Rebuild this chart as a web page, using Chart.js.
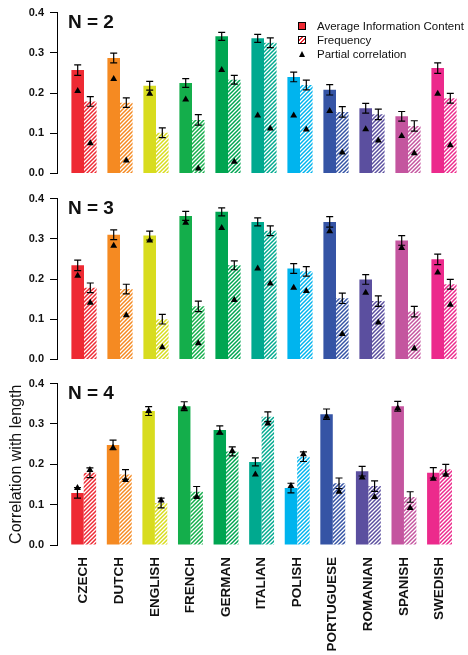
<!DOCTYPE html>
<html>
<head>
<meta charset="utf-8">
<script src="https://cdn.jsdelivr.net/npm/chart.js@4.4.1/dist/chart.umd.min.js"></script>
<style>
  html, body { margin: 0; padding: 0; background: #fff; }
  #wrap { position: relative; width: 468px; height: 655px; font-family: "Liberation Sans", Arial, sans-serif; }
  .panel { position: absolute; left: 0; width: 468px; }
  #legend { position: absolute; left: 298px; top: 18.5px; font-size: 11.5px; color: #111; }
  #legend .row { position: relative; height: 14px; line-height: 14px; padding-left: 19px; white-space: nowrap; }
  #legend .box { position: absolute; left: 0; top: 3.5px; width: 6px; height: 6px; border: 1px solid #000; }
  #legend .solid { background: #EE2A33; }
  #legend .hatch { background: repeating-linear-gradient(-45deg, #EE2A33 0 1.4px, #fff 1.4px 2.8px); }
  #legend .tri { position: absolute; left: 0.5px; top: 4px; width: 0; height: 0;
    border-left: 3.5px solid transparent; border-right: 3.5px solid transparent; border-bottom: 6px solid #000; }
</style>
</head>
<body>
<div id="wrap">
  <div class="panel" style="top:0;height:186px"><canvas id="n2"></canvas></div>
  <div class="panel" style="top:186px;height:186px"><canvas id="n3"></canvas></div>
  <div class="panel" style="top:371px;height:284px"><canvas id="n4"></canvas></div>
  <div id="legend">
    <div class="row"><span class="box solid"></span>Average Information Content</div>
    <div class="row"><span class="box hatch"></span>Frequency</div>
    <div class="row"><span class="tri"></span>Partial correlation</div>
  </div>
</div>
<script>
const languages = ['CZECH', 'DUTCH', 'ENGLISH', 'FRENCH', 'GERMAN', 'ITALIAN', 'POLISH', 'PORTUGUESE', 'ROMANIAN', 'SPANISH', 'SWEDISH']
const colors = ['#EE2A33', '#F58A22', '#D8DC1E', '#14AE4B', '#00A551', '#00A98F', '#00B4EE', '#3554A5', '#5B4F9F', '#C4559F', '#EC2A8C']

// N = 2
const info2 = [0.257, 0.287, 0.218, 0.225, 0.341, 0.336, 0.240, 0.208, 0.162, 0.142, 0.262]
const freq2 = [0.179, 0.176, 0.101, 0.133, 0.233, 0.325, 0.220, 0.153, 0.147, 0.118, 0.187]
const partInfo2 = [0.205, 0.235, 0.198, 0.184, 0.257, 0.144, 0.144, 0.155, 0.110, 0.093, 0.198]
const partFreq2 = [0.075, 0.032, null, 0.012, 0.029, 0.112, 0.109, 0.052, 0.082, 0.050, 0.070]

// N = 3
const info3 = [0.234, 0.310, 0.308, 0.357, 0.367, 0.342, 0.226, 0.342, 0.199, 0.296, 0.249]
const freq3 = [0.178, 0.175, 0.100, 0.132, 0.234, 0.320, 0.219, 0.152, 0.145, 0.119, 0.187]
const partInfo3 = [0.208, 0.283, 0.296, 0.340, 0.327, 0.226, 0.178, 0.319, 0.166, 0.277, 0.216]
const partFreq3 = [0.141, 0.110, 0.030, 0.040, 0.148, 0.189, 0.170, 0.063, 0.092, 0.027, 0.136]

// N = 4
const info4 = [0.129, 0.248, 0.332, 0.344, 0.285, 0.206, 0.141, 0.324, 0.183, 0.344, 0.179]
const freq4 = [0.179, 0.175, 0.104, 0.132, 0.232, 0.318, 0.219, 0.153, 0.146, 0.119, 0.188]
const partInfo4 = [0.141, 0.241, 0.332, 0.340, 0.279, 0.175, 0.146, 0.318, 0.167, 0.339, 0.164]
const partFreq4 = [0.186, 0.161, 0.110, 0.119, 0.233, 0.301, 0.225, 0.132, 0.119, 0.092, 0.174]

// error bar half widths (about the same in every panel)
const errInfo = [0.013, 0.012, 0.011, 0.011, 0.010, 0.010, 0.012, 0.013, 0.012, 0.012, 0.013]
const errFreq = [0.012, 0.012, 0.012, 0.013, 0.011, 0.012, 0.012, 0.013, 0.013, 0.013, 0.012]

const yTicks = [0, 0.1, 0.2, 0.3, 0.4]

const FONT = '"Liberation Sans", Arial, sans-serif'
const CAT = 0.7

function hatch(color) {
  const c = document.createElement('canvas')
  c.width = 4
  c.height = 4
  const g = c.getContext('2d')
  g.strokeStyle = color
  g.lineWidth = 1.5
  g.beginPath()
  g.moveTo(-1, 5); g.lineTo(5, -1)
  g.moveTo(-1, 1); g.lineTo(1, -1)
  g.moveTo(3, 5); g.lineTo(5, 3)
  g.stroke()
  return g.createPattern(c, 'repeat')
}

const errorBars = {
  id: 'errorBars',
  afterDatasetDraw(chart, args) {
    const ds = chart.data.datasets[args.index]
    if (!ds.errors) return
    const y = chart.scales.y
    const ctx = chart.ctx
    ctx.save()
    ctx.strokeStyle = '#000'
    ctx.lineWidth = 1.2
    args.meta.data.forEach((bar, i) => {
      const v = ds.data[i].y
      const e = ds.errors[i]
      const top = y.getPixelForValue(v + e)
      const bot = y.getPixelForValue(v - e)
      ctx.beginPath()
      ctx.moveTo(bar.x, top); ctx.lineTo(bar.x, bot)
      ctx.moveTo(bar.x - 3.5, top); ctx.lineTo(bar.x + 3.5, top)
      ctx.moveTo(bar.x - 3.5, bot); ctx.lineTo(bar.x + 3.5, bot)
      ctx.stroke()
    })
    ctx.restore()
  }
}

const panelLabel = {
  id: 'panelLabel',
  afterDraw(chart, args, opts) {
    const { ctx, chartArea } = chart
    ctx.save()
    ctx.font = 'bold 19px ' + FONT
    ctx.fillStyle = '#111'
    ctx.textBaseline = 'alphabetic'
    ctx.fillText(opts.text, chartArea.left + 11, chartArea.top + 15)
    ctx.restore()
  }
}

function points(values, shift) {
  return values.flatMap((v, i) => v == null ? [] : [{ x: i + shift, y: v }])
}

function makePanel(id, label, info, freq, partInfo, partFreq, showX) {
  const shift = CAT / 4
  new Chart(document.getElementById(id), {
    type: 'bar',
    data: {
      datasets: [
        {
          type: 'scatter', label: 'Partial correlation', data: points(partInfo, -shift),
          pointStyle: 'triangle', radius: 4, backgroundColor: '#000', borderWidth: 0, order: 0, clip: false
        },
        {
          type: 'scatter', label: 'Partial correlation', data: points(partFreq, shift),
          pointStyle: 'triangle', radius: 4, backgroundColor: '#000', borderWidth: 0, order: 0, clip: false
        },
        {
          label: 'Average Information Content', data: info.map((v, i) => ({ x: i, y: v })),
          backgroundColor: colors, errors: errInfo, order: 1,
          categoryPercentage: CAT, barPercentage: 1, borderWidth: 0
        },
        {
          label: 'Frequency', data: freq.map((v, i) => ({ x: i, y: v })),
          backgroundColor: colors.map(hatch), errors: errFreq, order: 1,
          categoryPercentage: CAT, barPercentage: 1, borderWidth: 0
        }
      ]
    },
    options: {
      animation: false,
      responsive: true,
      maintainAspectRatio: false,
      events: [],
      layout: { padding: { top: 12, bottom: showX ? 0 : 12, left: 0, right: 6 } },
      plugins: {
        legend: { display: false },
        tooltip: { enabled: false },
        panelLabel: { text: label }
      },
      scales: {
        x: {
          type: 'linear',
          offset: false,
          min: -0.75,
          max: 10.5,
          display: showX,
          afterBuildTicks: s => { s.ticks = languages.map((_, i) => ({ value: i })) },
          afterFit: s => { if (showX) s.height = 110 },
          grid: { display: false, drawTicks: false },
          border: { display: false },
          ticks: {
            autoSkip: false,
            minRotation: 90,
            maxRotation: 90,
            padding: 12,
            color: '#111',
            font: { family: FONT, size: 13.5, weight: 'bold' },
            callback: v => languages[v]
          }
        },
        y: {
          min: 0,
          max: 0.4,
          afterFit: s => { s.width = 57 },
          afterBuildTicks: s => { s.ticks = yTicks.map(v => ({ value: v })) },
          grid: { drawOnChartArea: false, color: '#000', tickLength: 7 },
          border: { display: true, color: '#000', width: 1 },
          ticks: {
            padding: 6,
            color: '#111',
            font: { family: FONT, size: 11, weight: 'bold' },
            callback: v => v.toFixed(1)
          },
          title: {
            display: showX,
            text: 'Correlation with length',
            color: '#111',
            padding: { top: 7, bottom: 0 },
            font: { family: FONT, size: 16 }
          }
        }
      }
    },
    plugins: [errorBars, panelLabel]
  })
}

makePanel('n2', 'N = 2', info2, freq2, partInfo2, partFreq2, false)
makePanel('n3', 'N = 3', info3, freq3, partInfo3, partFreq3, false)
makePanel('n4', 'N = 4', info4, freq4, partInfo4, partFreq4, true)
</script>
</body>
</html>
